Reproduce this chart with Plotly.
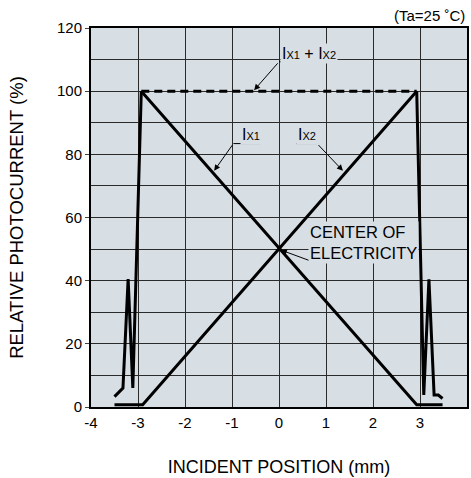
import plotly.graph_objects as go

# ---- data ----
ix1_pos = [-2.93, 2.93, 3.48]
ix1_val = [100, 0.7, 0.7]

ix2_pos = [-3.5, -2.9, 2.93]
ix2_val = [0.7, 0.7, 100]

sum_left_pos = [-3.5, -3.32, -3.21, -3.11, -2.93]
sum_left_val = [3.3, 6.0, 40.5, 6.0, 100]
sum_top_pos = [-2.93, 2.93]
sum_top_val = [100, 100]
sum_right_pos = [2.93, 3.08, 3.19, 3.30, 3.39, 3.48]
sum_right_val = [100, 3.8, 40.4, 3.8, 3.8, 2.7]

x_ticks = [-4, -3, -2, -1, 0, 1, 2, 3, 4]
y_ticks = [0, 20, 40, 60, 80, 100, 120]

FONT = "Liberation Sans, Arial, sans-serif"
BG = "#d7dee4"
LW = 3

fig = go.Figure()
line_style = dict(color="black", width=LW)
fig.add_trace(go.Scatter(x=ix1_pos, y=ix1_val, mode="lines", line=line_style, name="Ix1"))
fig.add_trace(go.Scatter(x=ix2_pos, y=ix2_val, mode="lines", line=line_style, name="Ix2"))
fig.add_trace(go.Scatter(x=sum_left_pos, y=sum_left_val, mode="lines", line=line_style, name="Ix1+Ix2"))
fig.add_trace(go.Scatter(x=sum_right_pos, y=sum_right_val, mode="lines", line=line_style, name="Ix1+Ix2"))
fig.add_trace(go.Scatter(x=sum_top_pos, y=sum_top_val, mode="lines",
                         line=dict(color="black", width=LW, dash="8px,5px"), name="Ix1+Ix2"))

sub = "<span style='font-size:11px'>X1</span>"
sub2 = "<span style='font-size:11px'>X2</span>"

annots = [
    dict(x=0.63, y=112, text="I" + sub + " + I" + sub2, xanchor="center", yanchor="middle", size=16),
    dict(x=-0.6, y=86.3, text="I" + sub, xanchor="center", yanchor="middle", size=16),
    dict(x=0.59, y=86.3, text="I" + sub2, xanchor="center", yanchor="middle", size=16),
    dict(x=0.62, y=52.2, text="CENTER OF<br>ELECTRICITY", xanchor="left", yanchor="middle",
         align="left", size=16.5),
]
for a in annots:
    size = a.pop("size")
    fig.add_annotation(xref="x", yref="y", showarrow=False, bgcolor=BG, borderpad=1,
                       font=dict(family=FONT, size=size, color="black"), **a)

# underlines
underlines = [(0.0, 1.23, 109.3), (-0.97, -0.39, 83.4), (0.375, 0.81, 83.4), (0.66, 2.75, 46.3)]
for x0, x1, yy in underlines:
    fig.add_shape(type="line", xref="x", yref="y", x0=x0, x1=x1, y0=yy, y1=yy,
                  line=dict(color="black", width=1))

# leader arrows (tail at underline end -> target on curve)
leaders = [((0.0, 109.3), (-0.53, 100.3)), ((-0.97, 83.4), (-1.38, 74.8)),
           ((0.81, 83.4), (1.36, 74.8)), ((0.66, 46.3), (0.04, 49.7))]
for (tx, ty), (hx, hy) in leaders:
    fig.add_annotation(x=hx, y=hy, ax=tx, ay=ty, xref="x", yref="y", axref="x", ayref="y",
                       text="", showarrow=True, arrowhead=2, arrowsize=1.2, arrowwidth=1,
                       arrowcolor="black", standoff=0, startstandoff=0)

fig.add_annotation(xref="paper", yref="paper", x=1.0, y=1.0, xanchor="right", yanchor="bottom",
                   yshift=2, text="(Ta=25 ˚C)", showarrow=False,
                   font=dict(family=FONT, size=15, color="black"))

fig.update_layout(
    width=471, height=478,
    margin=dict(l=91, r=2, t=28, b=71),
    plot_bgcolor=BG, paper_bgcolor="white",
    showlegend=False,
    font=dict(family=FONT, color="black"),
)
fig.update_xaxes(range=[-4, 4], tickvals=x_ticks, ticktext=[str(v) for v in x_ticks],
                 showgrid=True, gridcolor="#2a2a2a", gridwidth=1, zeroline=False,
                 showline=True, linecolor="black", linewidth=2, mirror=True,
                 ticks="outside", ticklen=1, tickcolor="rgba(0,0,0,0)",
                 tickfont=dict(size=15, family=FONT, color="black"),
                 title=dict(text="INCIDENT POSITION (mm)", font=dict(size=18, family=FONT), standoff=30))
fig.update_yaxes(range=[0, 120], tickvals=y_ticks, ticktext=[str(v) for v in y_ticks],
                 showgrid=True, gridcolor="#2a2a2a", gridwidth=1, zeroline=False,
                 showline=True, linecolor="black", linewidth=2, mirror=True,
                 ticks="outside", ticklen=4, tickcolor="#444",
                 minor=dict(dtick=10, showgrid=True, gridcolor="#2a2a2a", gridwidth=1),
                 tickfont=dict(size=15, family=FONT, color="black"),
                 title=dict(text="RELATIVE PHOTOCURRENT (%)", font=dict(size=18.5, family=FONT), standoff=28))

fig.write_html("out.html")
